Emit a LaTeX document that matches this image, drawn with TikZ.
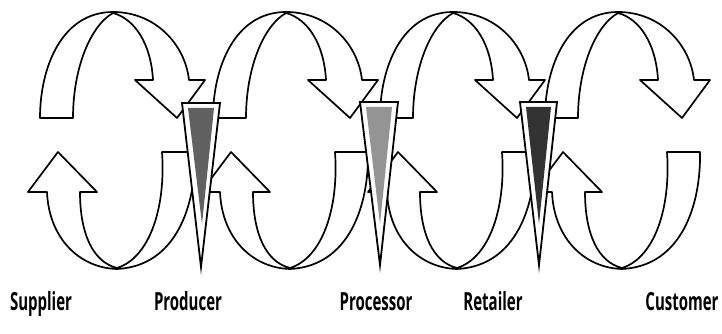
\documentclass[tikz,border=0pt]{standalone}
\usepackage{fontspec}
\setmainfont{Open Sans}[FakeStretch=0.6]
\begin{document}
\begin{tikzpicture}[x=1pt,y=1pt,
  outl/.style={draw=black, line width=1.7pt, fill=white, line join=round},
  conebox/.style={draw=black, line width=1.8pt, fill=white, line join=miter},
  lbl/.style={anchor=base, font=\fontsize{25}{28}\selectfont\bfseries, inner sep=0pt},
  pics/cyc/.style={code={
    % top arrow (clockwise, head on the right)
    \draw[outl] (-75,216) .. controls (-75,267) and (-53,322) .. (-2,322)
      .. controls (40,322) and (70,290) .. (74,254)
      -- (90,254) -- (62,216) -- (20,254) -- (38,254)
      .. controls (36,290) and (20,315) .. (-2,321)
      .. controls (-25,308) and (-42,265) .. (-42,216) -- cycle;
    % bottom arrow (clockwise, head on the left)
    \draw[outl] (47,182) .. controls (51,125) and (34,76) .. (2,66)
      .. controls (-22,72) and (-35,100) .. (-35,142)
      -- (-18,142) -- (-57,182) -- (-87,142) -- (-68,142)
      .. controls (-66,95) and (-35,66) .. (2,65)
      .. controls (62,68) and (81,130) .. (80,182) -- cycle;
  }}]
\useasboundingbox (0,0) rectangle (722,334);
\fill[white] (0,0) rectangle (722,334);

\pic at (115,0) {cyc};
\pic at (288,0) {cyc};
\pic at (455,0) {cyc};
\pic at (620,0) {cyc};

% cones
\draw[conebox] (182,231) -- (220,231) -- (201,67) -- cycle;
\fill[black!62] (188,226) -- (214,226) -- (202,110) -- cycle;
\draw[conebox] (360,232) -- (398,232) -- (380,69) -- cycle;
\fill[black!42] (366,227) -- (392,227) -- (380,110) -- cycle;
\draw[conebox] (520,232) -- (557,232) -- (539,69) -- cycle;
\fill[black!80] (526,227) -- (551,227) -- (539,110) -- cycle;

% labels
\node[lbl] (sup) at (41,23) {Supplier};
\node[lbl] (pro) at (188,23) {Producer};
\node[lbl] (prc) at (376,23) {Processor};
\node[lbl] (ret) at (493,23) {Retailer};
\node[lbl] (cus) at (682,23) {Customer};
\end{tikzpicture}
\end{document}
